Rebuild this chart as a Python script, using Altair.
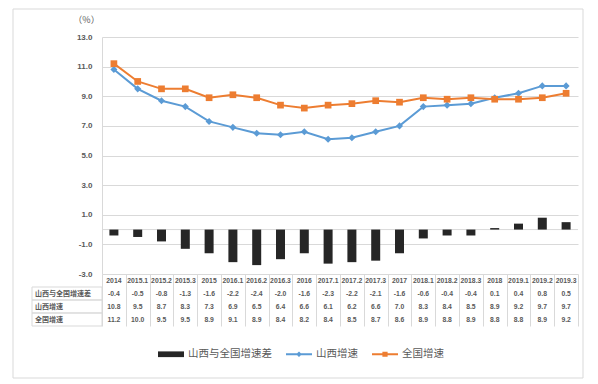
import altair as alt
import pandas as pd

categories = ["2014", "2015.1", "2015.2", "2015.3", "2015", "2016.1", "2016.2", "2016.3", "2016",
              "2017.1", "2017.2", "2017.3", "2017", "2018.1", "2018.2", "2018.3", "2018",
              "2019.1", "2019.2", "2019.3"]
diff = [-0.4, -0.5, -0.8, -1.3, -1.6, -2.2, -2.4, -2.0, -1.6, -2.3, -2.2, -2.1, -1.6,
        -0.6, -0.4, -0.4, 0.1, 0.4, 0.8, 0.5]
shanxi = [10.8, 9.5, 8.7, 8.3, 7.3, 6.9, 6.5, 6.4, 6.6, 6.1, 6.2, 6.6, 7.0,
          8.3, 8.4, 8.5, 8.9, 9.2, 9.7, 9.7]
national = [11.2, 10.0, 9.5, 9.5, 8.9, 9.1, 8.9, 8.4, 8.2, 8.4, 8.5, 8.7, 8.6,
            8.9, 8.8, 8.9, 8.8, 8.8, 8.9, 9.2]
row_names = ["山西与全国增速差", "山西增速", "全国增速"]
series_colors = ["#262626", "#5B9BD5", "#ED7D31"]
y_ticks = [-3, -1, 1, 3, 5, 7, 9, 11, 13]

GRID = "#d9d9d9"
TXT = "#595959"
CJK = "Noto Sans CJK SC"
NUM = "Liberation Sans"
W, H_MAIN, H_TAB = 476, 237, 52

df = pd.DataFrame({"cat": categories, "diff": diff, "shanxi": shanxi, "national": national})

band0 = alt.Scale(type="band", paddingInner=0, paddingOuter=0)
x_main = alt.X("cat:N", sort=categories, scale=band0, axis=None)
y_scale = alt.Scale(domain=[-3, 13], nice=False, zero=False)
y_axis = alt.Axis(values=y_ticks,
                  labelExpr="replace(format(datum.value, '.1f'), '\u2212', '-')",
                  grid=True, gridColor=GRID, domainColor=GRID, ticks=False,
                  labelPadding=10, labelFont=NUM, labelFontSize=8, labelFontWeight="bold",
                  labelColor=TXT, title="（%）", titleAngle=0, titleX=-16, titleY=-18,
                  titleAlign="center", titleBaseline="middle", titleFont=CJK,
                  titleFontSize=9, titleColor=TXT, titleFontWeight="normal")


def Y(field):
    return alt.Y(field, scale=y_scale, axis=y_axis, title="（%）")


border = alt.Chart(pd.DataFrame({"k": [0]})).mark_rect(
    fill="white", fillOpacity=0, stroke=GRID, strokeWidth=1
).encode(x=alt.value(-89), x2=alt.value(481), y=alt.value(-28), y2=alt.value(341))

zero = alt.Chart(pd.DataFrame({"z": [0]})).mark_rule(color=GRID, strokeWidth=1).encode(y=Y("z:Q"))

base = alt.Chart(df)
bars = base.mark_bar(size=9, color=series_colors[0]).encode(x=x_main, y=Y("diff:Q"))
sx_line = base.mark_line(color=series_colors[1], strokeWidth=2).encode(x=x_main, y=Y("shanxi:Q"))
sx_pts = base.mark_point(shape="diamond", filled=True, size=50, opacity=1,
                         color=series_colors[1]).encode(x=x_main, y=Y("shanxi:Q"))
nt_line = base.mark_line(color=series_colors[2], strokeWidth=2).encode(x=x_main, y=Y("national:Q"))
nt_pts = base.mark_point(shape="square", filled=True, size=45, opacity=1,
                         color=series_colors[2]).encode(x=x_main, y=Y("national:Q"))

legend_paths = [
    "M-1,-0.22H1V0.22H-1Z",
    "M-1,-0.07H1V0.07H-1Z M0,-0.22L0.22,0L0,0.22L-0.22,0Z",
    "M-1,-0.07H1V0.07H-1Z M-0.2,-0.2H0.2V0.2H-0.2Z",
]
leg = alt.Legend(orient="none", legendX=56, legendY=304, direction="horizontal", title=None,
                 labelFont=CJK, labelFontSize=10.5, labelColor=TXT, symbolSize=676,
                 symbolStrokeWidth=0, labelOffset=4, columnPadding=14, symbolOpacity=1)
legend_layer = alt.Chart(pd.DataFrame({"series": row_names})).transform_filter("false").mark_point(
    filled=True, size=676
).encode(
    color=alt.Color("series:N", scale=alt.Scale(domain=row_names, range=series_colors), legend=leg),
    shape=alt.Shape("series:N", scale=alt.Scale(domain=row_names, range=legend_paths), legend=leg),
)

main = alt.layer(border, zero, bars, sx_line, sx_pts, nt_line, nt_pts, legend_layer).properties(
    width=W, height=H_MAIN)

# data table under the plot
rows = []
for c in categories:
    rows.append({"cat": c, "row": "hdr", "txt": c})
for name, vals in zip(row_names, [diff, shanxi, national]):
    for c, v in zip(categories, vals):
        rows.append({"cat": c, "row": name, "txt": f"{v:.1f}"})
tab_df = pd.DataFrame(rows)

row_scale = alt.Scale(domain=["hdr"] + row_names, paddingInner=0, paddingOuter=0)
tab_x = alt.X("cat:N", sort=categories, scale=band0,
              axis=alt.Axis(labels=False, ticks=False, domain=False, grid=True, gridColor=GRID,
                            tickBand="extent", title=None))
tab_y = alt.Y("row:N", scale=row_scale,
              axis=alt.Axis(grid=True, gridColor=GRID, tickBand="extent", ticks=False, domain=False,
                            labels=False, title=None))

tab_text = alt.Chart(tab_df).mark_text(font=NUM, fontSize=6.8, fontWeight="bold", color=TXT).encode(
    x=tab_x, y=tab_y, text="txt:N")

label_df = pd.DataFrame({"row": row_names})
label_cells = alt.Chart(label_df).mark_rect(
    fill="white", fillOpacity=0, stroke=GRID, strokeWidth=1
).encode(x=alt.value(-70), x2=alt.value(0), y=alt.Y("row:N", scale=row_scale, axis=None))
label_text = alt.Chart(label_df).mark_text(
    align="left", font=CJK, fontSize=7, fontWeight="bold", color=TXT, dx=3
).encode(x=alt.value(-70), y=alt.Y("row:N", scale=row_scale, axis=None), text="row:N")

table = alt.layer(label_cells, tab_text, label_text).properties(width=W, height=H_TAB)

chart = alt.vconcat(main, table, spacing=0, bounds="flush").properties(
    padding={"left": 4, "top": 0, "right": 4, "bottom": 0}
).configure_view(strokeWidth=0)

chart.save("out.html", embed_options={"renderer": "svg", "actions": False})
